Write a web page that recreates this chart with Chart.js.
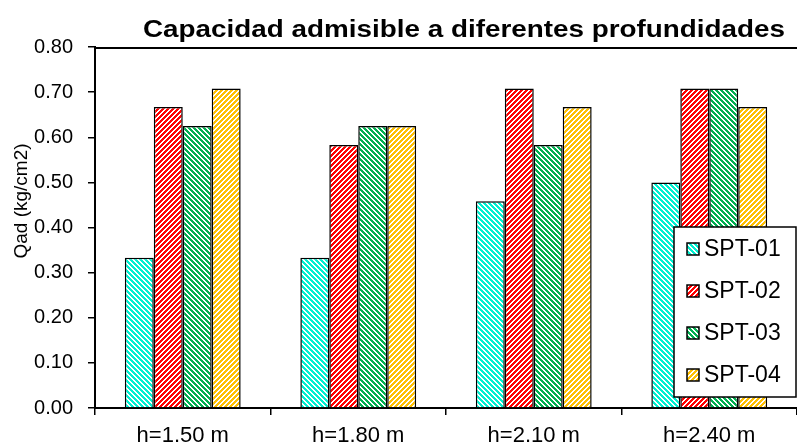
<!DOCTYPE html>
<html>
<head>
<meta charset="utf-8">
<script src="https://cdn.jsdelivr.net/npm/chart.js@4.4.1/dist/chart.umd.min.js"></script>
<style>
  html, body { margin: 0; padding: 0; background: #fff; }
  #wrap { width: 797px; height: 445px; position: relative; }
</style>
</head>
<body>
<div id="wrap"><canvas id="chart" width="797" height="445"></canvas></div>
<script>
// Datos
const categorias = ['h=1.50 m', 'h=1.80 m', 'h=2.10 m', 'h=2.40 m'];
const spt01 = [0.333, 0.333, 0.458, 0.500];
const spt02 = [0.667, 0.583, 0.708, 0.708];
const spt03 = [0.625, 0.625, 0.583, 0.708];
const spt04 = [0.708, 0.625, 0.667, 0.667];
const seriesNames = ['SPT-01', 'SPT-02', 'SPT-03', 'SPT-04'];
const yTicks = [0, 0.1, 0.2, 0.3, 0.4, 0.5, 0.6, 0.7, 0.8];

const colors = {
    cyan: '#00F0D0',
    red: '#FF0000',
    green: '#00B050',
    yellow: '#FFC000'
};

const FONT = '"Liberation Sans", Arial, sans-serif';

/**
 * Patrón de rayas diagonales
 */
function stripes(color, dir) {
    const size = 5;
    const c = document.createElement('canvas');
    c.width = size; c.height = size;
    const g = c.getContext('2d');
    g.fillStyle = '#fff';
    g.fillRect(0, 0, size, size);
    g.fillStyle = color;
    for (let x = 0; x < size; x++) {
        for (let y = 0; y < size; y++) {
            const k = dir === '/' ? (x + y) % size : ((x - y) % size + size) % size;
            if (k < 3) g.fillRect(x, y, 1, 1);
        }
    }
    return g.createPattern(c, 'repeat');
}

const fills = [
    stripes(colors.cyan, '\\'),
    stripes(colors.red, '/'),
    stripes(colors.green, '\\'),
    stripes(colors.yellow, '/')
];

const decor = {
    id: 'decor',
    afterDraw(chart) {
        const ctx = chart.ctx;
        const area = chart.chartArea;
        ctx.save();
        // borde superior
        ctx.strokeStyle = '#000';
        ctx.lineWidth = 2;
        ctx.beginPath();
        ctx.moveTo(area.left, area.top + 1);
        ctx.lineTo(area.right, area.top + 1);
        ctx.stroke();

        // título (ancho como en el original)
        const title = 'Capacidad admisible a diferentes profundidades';
        ctx.fillStyle = '#000';
        ctx.font = 'bold 23px ' + FONT;
        ctx.textAlign = 'center';
        ctx.textBaseline = 'alphabetic';
        const sx = 642 / ctx.measureText(title).width;
        ctx.save();
        ctx.translate(464, 37);
        ctx.scale(sx, 1);
        ctx.fillText(title, 0, 0);
        ctx.restore();

        // título eje Y
        ctx.save();
        ctx.translate(22, 201);
        ctx.rotate(-Math.PI / 2);
        ctx.font = '19px ' + FONT;
        ctx.textBaseline = 'middle';
        ctx.fillText('Qad (kg/cm2)', 0, 0);
        ctx.restore();

        // leyenda
        const bx = 674, by = 227, bw = 122, bh = 170;
        ctx.fillStyle = '#fff';
        ctx.fillRect(bx, by, bw, bh);
        ctx.strokeStyle = '#000';
        ctx.lineWidth = 1.5;
        ctx.strokeRect(bx, by, bw, bh);
        ctx.font = '23px ' + FONT;
        ctx.textAlign = 'left';
        ctx.textBaseline = 'middle';
        chart.data.datasets.forEach((ds, i) => {
            const cy = by + 22 + i * 42;
            ctx.fillStyle = ds.backgroundColor;
            ctx.fillRect(bx + 13, cy - 6, 12, 12);
            ctx.strokeStyle = '#000';
            ctx.lineWidth = 1.5;
            ctx.strokeRect(bx + 13, cy - 6, 12, 12);
            ctx.fillStyle = '#000';
            ctx.fillText(ds.label, bx + 30, cy + 1);
        });
        ctx.restore();
    }
};

const ctx = document.getElementById('chart').getContext('2d');
new Chart(ctx, {
    type: 'bar',
    data: {
        labels: categorias,
        datasets: [spt01, spt02, spt03, spt04].map((d, i) => ({
            label: seriesNames[i],
            data: d,
            backgroundColor: fills[i],
            borderColor: '#000',
            borderWidth: 1.5,
            borderSkipped: 'bottom',
            categoryPercentage: 0.66,
            barPercentage: 1.0
        }))
    },
    options: {
        responsive: false,
        animation: false,
        devicePixelRatio: 1,
        layout: { padding: { top: 47, right: 0, left: 0, bottom: 0 } },
        plugins: {
            legend: { display: false },
            tooltip: { enabled: false }
        },
        scales: {
            x: {
                grid: {
                    offset: true,
                    drawOnChartArea: false,
                    color: '#000',
                    tickLength: 7,
                    lineWidth: 1.5
                },
                border: { color: '#000', width: 2 },
                ticks: {
                    color: '#000',
                    autoSkip: false,
                    maxRotation: 0,
                    minRotation: 0,
                    font: { size: 22, family: FONT },
                    padding: 8
                },
                afterFit(scale) { scale.height = 37; }
            },
            y: {
                min: 0,
                max: 0.8,
                afterBuildTicks(scale) {
                    scale.ticks = yTicks.map(v => ({ value: v }));
                },
                grid: {
                    drawOnChartArea: false,
                    color: '#000',
                    tickLength: 7,
                    lineWidth: 1.5
                },
                border: { color: '#000', width: 2 },
                ticks: {
                    color: '#000',
                    autoSkip: false,
                    font: { size: 20, family: FONT },
                    padding: 15,
                    callback: v => Number(v).toFixed(2)
                },
                afterFit(scale) { scale.width = 95; }
            }
        }
    },
    plugins: [decor]
});
</script>
</body>
</html>
